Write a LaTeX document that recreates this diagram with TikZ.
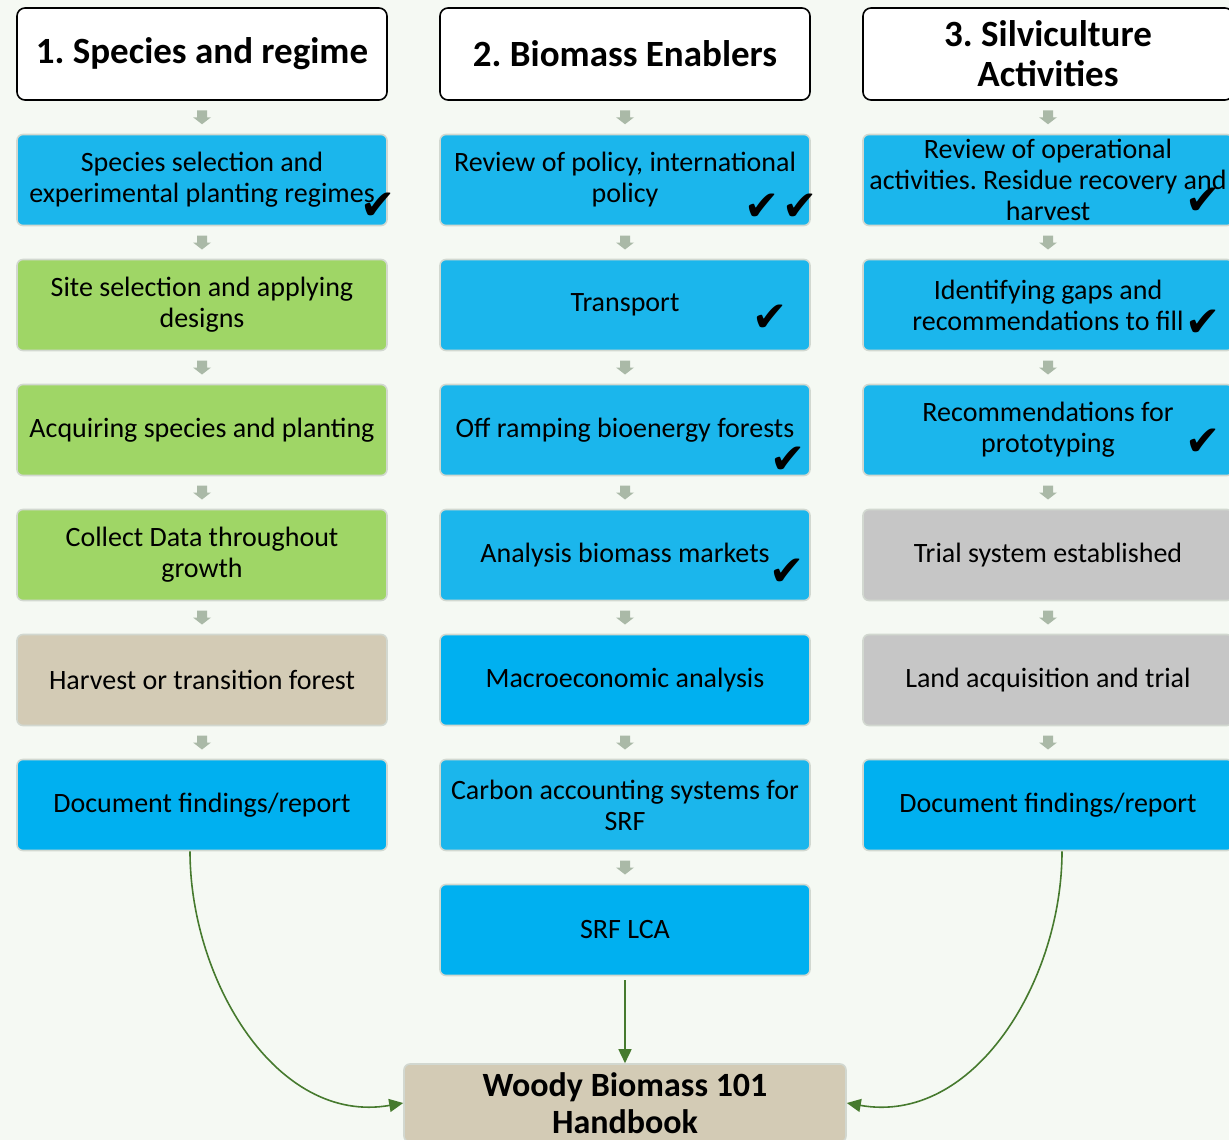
\documentclass[tikz,border=0pt]{standalone}
\usepackage{fontspec}
\setmainfont{Carlito}
\newfontfamily\checkfont{DejaVu Sans}
\usetikzlibrary{calc,arrows.meta}
\frenchspacing

\definecolor{paper}{HTML}{F5F9F3}
\definecolor{skyblue}{HTML}{1BB6EC}
\definecolor{deepblue}{HTML}{00B0F0}
\definecolor{leafgreen}{HTML}{9FD666}
\definecolor{sand}{HTML}{D3CBB5}
\definecolor{stone}{HTML}{C6C6C6}
\definecolor{edgegray}{HTML}{D2D8D0}
\definecolor{gapgray}{HTML}{AAB9A7}
\definecolor{flowgreen}{HTML}{467A2E}

% small block arrow between two stacked boxes
\newcommand{\gaparrow}[2]{%
  \fill[gapgray] ($(#1.south)!0.5!(#2.north)$) ++(-5,-7) -- ++(10,0) -- ++(0,7)
    -- ++(4,0) -- ++(-9,7) -- ++(-9,-7) -- ++(4,0) -- cycle;}

\begin{document}
\begin{tikzpicture}[x=1pt, y=-1pt,
  box/.style={rounded corners=6pt, draw=edgegray, line width=1.6pt,
    minimum width=370pt, minimum height=91pt, align=center, inner sep=1pt,
    font=\fontsize{28}{31}\selectfont},
  head/.style={box, fill=white, draw=black, rounded corners=8pt,
    minimum height=92pt, font=\bfseries\fontsize{37}{40}\selectfont},
  bluebox/.style={box, fill=skyblue},
  deepbox/.style={box, fill=deepblue},
  greenbox/.style={box, fill=leafgreen},
  sandbox/.style={box, fill=sand},
  stonebox/.style={box, fill=stone},
  tick/.style={font=\checkfont\fontsize{42}{42}\selectfont, inner sep=0pt},
  flow/.style={draw=flowgreen, line width=1.6pt, -{Triangle[length=14pt,width=13pt]}}]

% Canvas
\useasboundingbox (0,0) rectangle (1229,1140);
\clip (0,0) rectangle (1229,1140);
\fill[paper] (0,0) rectangle (1229,1140);

% Headers
\node[head] (h1) at (202,54) {1. Species and regime};
\node[head] (h2) at (625,54) {2. Biomass Enablers};
\node[head] (h3) at (1048,54) {3. Silviculture\\Activities};

% Column 1
\node[bluebox]  (s1) at (202,180) {Species selection and\\experimental planting regimes};
\node[greenbox] (s2) at (202,305) {Site selection and applying\\designs};
\node[greenbox] (s3) at (202,430) {Acquiring species and planting};
\node[greenbox] (s4) at (202,555) {Collect Data throughout\\growth};
\node[sandbox]  (s5) at (202,680) {Harvest or transition forest};
\node[deepbox]  (s6) at (202,805) {Document findings/report};

% Column 2
\node[bluebox] (e1) at (625,180) {Review of policy, international\\policy};
\node[bluebox] (e2) at (625,305) {Transport};
\node[bluebox] (e3) at (625,430) {Off ramping bioenergy forests};
\node[bluebox] (e4) at (625,555) {Analysis biomass markets};
\node[deepbox] (e5) at (625,680) {Macroeconomic analysis};
\node[bluebox] (e6) at (625,805) {Carbon accounting systems for\\SRF};
\node[deepbox] (e7) at (625,930) {SRF LCA};

% Column 3
\node[bluebox]  (a1) at (1048,180) {Review of operational\\activities. Residue recovery and\\harvest};
\node[bluebox]  (a2) at (1048,305) {Identifying gaps and\\recommendations to fill};
\node[bluebox]  (a3) at (1048,430) {Recommendations for\\prototyping};
\node[stonebox] (a4) at (1048,555) {Trial system established};
\node[stonebox] (a5) at (1048,680) {Land acquisition and trial};
\node[deepbox]  (a6) at (1048,805) {Document findings/report};

% Handbook
\node[sandbox, minimum width=442pt, minimum height=78pt,
  font=\bfseries\fontsize{34}{37}\selectfont] (book) at (625,1103) {Woody Biomass 101\\Handbook};

% Gap arrows
\gaparrow{h1}{s1} \gaparrow{s1}{s2} \gaparrow{s2}{s3}
\gaparrow{s3}{s4} \gaparrow{s4}{s5} \gaparrow{s5}{s6}
\gaparrow{h2}{e1} \gaparrow{e1}{e2} \gaparrow{e2}{e3}
\gaparrow{e3}{e4} \gaparrow{e4}{e5} \gaparrow{e5}{e6} \gaparrow{e6}{e7}
\gaparrow{h3}{a1} \gaparrow{a1}{a2} \gaparrow{a2}{a3}
\gaparrow{a3}{a4} \gaparrow{a4}{a5} \gaparrow{a5}{a6}

% Ticks
\node[tick] (t1)  at (378,206) {✔};
\node[tick] (t2)  at (762,207) {✔};
\node[tick] (t3)  at (800,207) {✔};
\node[tick] (t4)  at (1203,201) {✔};
\node[tick] (t5)  at (770,318) {✔};
\node[tick] (t6)  at (1203,323) {✔};
\node[tick] (t7)  at (788,460) {✔};
\node[tick] (t8)  at (1203,442) {✔};
\node[tick] (t9)  at (787,572) {✔};

% Flows into the handbook
\draw[flow] ([xshift=-12pt]s6.south) to[out=-90, in=190] (book.west);
\draw[flow] ([yshift=-4pt]e7.south) -- (book.north);
\draw[flow] ([xshift=14pt]a6.south) to[out=-90, in=-10] (book.east);
\end{tikzpicture}
\end{document}
